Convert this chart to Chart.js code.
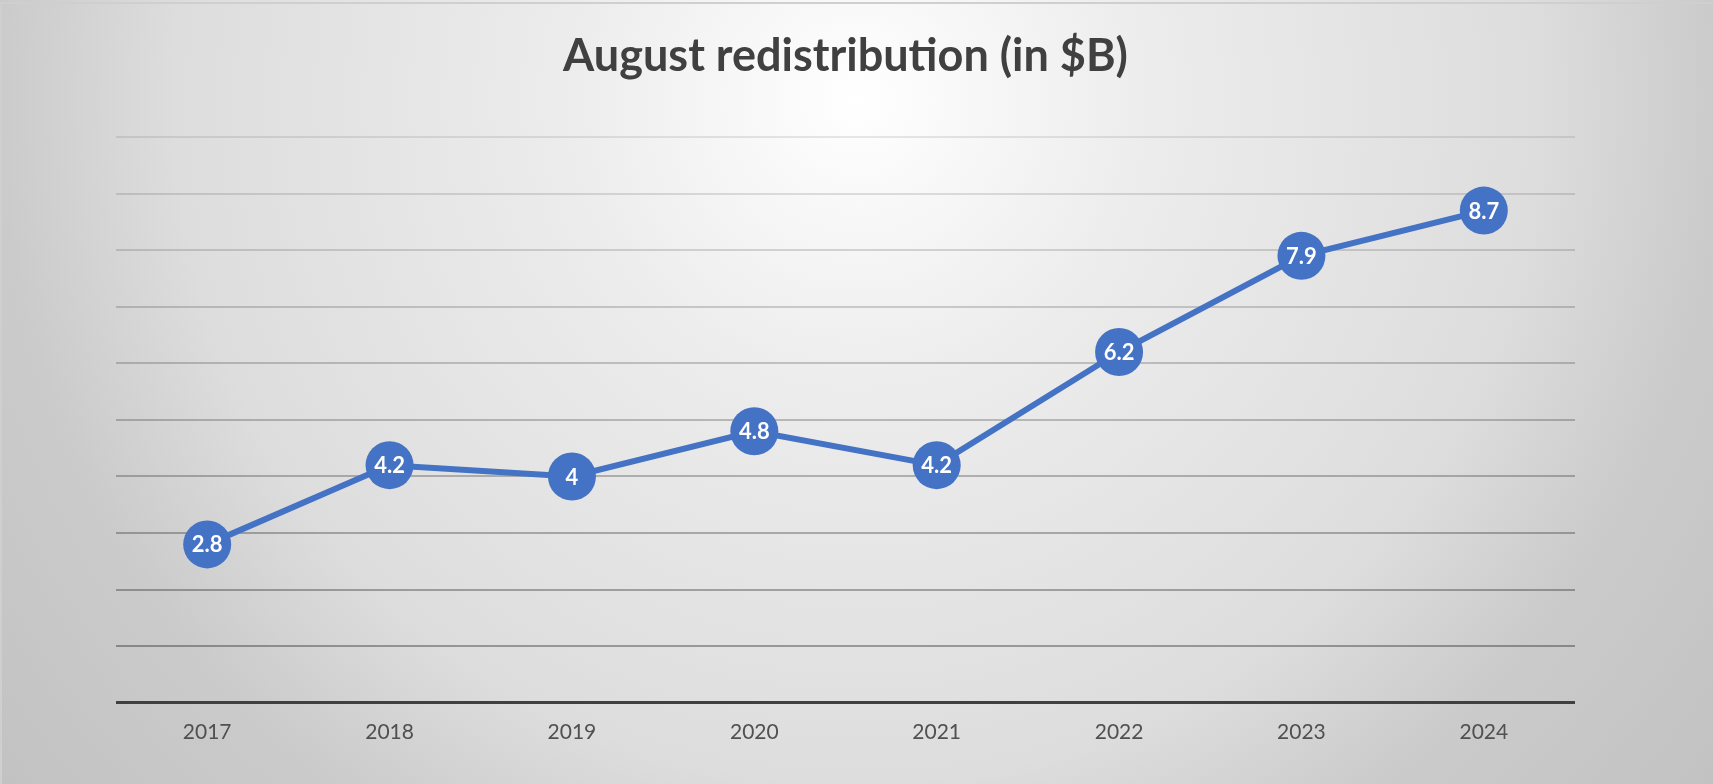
<!DOCTYPE html>
<html>
<head>
<meta charset="utf-8">
<title>August redistribution</title>
<script src="https://cdn.jsdelivr.net/npm/chart.js@4.4.1/dist/chart.umd.min.js"></script>
<style>
  html, body { margin: 0; padding: 0; background: #ffffff; overflow: hidden; }
  #chart { display: block; }
</style>
</head>
<body>
<canvas id="chart" width="1713" height="784"></canvas>
<script>
// chart data
const years = ['2017', '2018', '2019', '2020', '2021', '2022', '2023', '2024'];
const redistribution = [2.8, 4.2, 4, 4.8, 4.2, 6.2, 7.9, 8.7];
const yMin = 0;
const yMax = 10;
const yStep = 1;

const blue = '#4472C4';

// radial grey background + thin frame, like the office chart
const backgroundPlugin = {
  id: 'bg',
  beforeDraw(chart) {
    const c = chart.ctx;
    const w = chart.width, h = chart.height;
    c.save();
    const g = c.createRadialGradient(857, 100, 0, 857, 100, 1100);
    g.addColorStop(0, '#ffffff');
    g.addColorStop(0.27, '#ececec');
    g.addColorStop(0.62, '#dddddd');
    g.addColorStop(0.78, '#cbcbcb');
    g.addColorStop(1, '#c2c2c2');
    c.fillStyle = g;
    c.fillRect(0, 0, w, h);
    c.strokeStyle = '#cfcfcf';
    c.lineWidth = 2;
    c.strokeRect(1, 3, w + 5, h + 5);
    c.restore();
  }
};

// value labels drawn in the middle of each marker
const valueLabels = {
  id: 'valueLabels',
  afterDatasetsDraw(chart) {
    const c = chart.ctx;
    const meta = chart.getDatasetMeta(0);
    c.save();
    c.fillStyle = '#ffffff';
    c.font = 'bold 22px Lato';
    c.textAlign = 'center';
    c.textBaseline = 'middle';
    meta.data.forEach((pt, i) => {
      c.fillText(String(chart.data.datasets[0].data[i]), pt.x, pt.y + 1);
    });
    c.restore();
  }
};

const ctx = document.getElementById('chart');
new Chart(ctx, {
  type: 'line',
  data: {
    labels: years,
    datasets: [{
      label: 'August redistribution',
      data: redistribution,
      borderColor: blue,
      backgroundColor: blue,
      borderWidth: 6,
      pointRadius: 24,
      pointHoverRadius: 24,
      pointBorderWidth: 0,
      pointBackgroundColor: blue,
      tension: 0,
      clip: false
    }]
  },
  options: {
    responsive: false,
    animation: false,
    layout: {
      padding: { left: 116, right: 138, top: 0, bottom: 22 }
    },
    plugins: {
      legend: { display: false },
      tooltip: { enabled: false },
      title: {
        display: true,
        text: 'August redistribution (in $B)',
        color: '#404040',
        font: { family: 'Lato', size: 45, weight: 'bold', lineHeight: 1.2 },
        padding: { top: 29, bottom: 54 }
      }
    },
    scales: {
      x: {
        offset: true,
        grid: { display: false, drawTicks: false },
        border: { display: false },
        ticks: {
          color: '#505050',
          font: { family: 'Lato', size: 21 },
          padding: 17,
          maxRotation: 0
        }
      },
      y: {
        min: yMin,
        max: yMax,
        ticks: { display: false, stepSize: yStep },
        border: { display: false },
        grid: {
          drawTicks: false,
          color: (c) => c.tick.value === 0 ? '#404040'
            : 'rgba(0,0,0,' + (0.09 + 0.026 * (yMax - c.tick.value)).toFixed(3) + ')',
          lineWidth: (c) => c.tick.value === 0 ? 3 : 2
        }
      }
    }
  },
  plugins: [backgroundPlugin, valueLabels]
});
</script>
</body>
</html>
